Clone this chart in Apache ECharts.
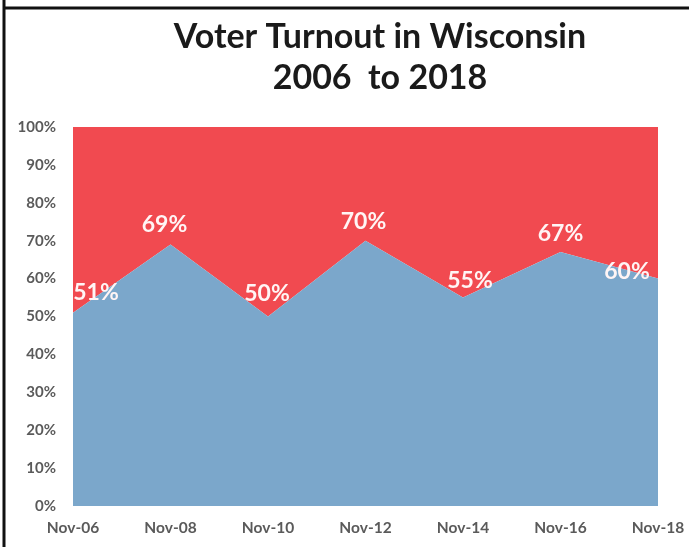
<!DOCTYPE html>
<html>
<head>
<meta charset="utf-8">
<script src="https://cdn.jsdelivr.net/npm/echarts@6/dist/echarts.min.js"></script>
<style>
html,body{margin:0;padding:0;background:#fff;}
#chart{width:689px;height:547px;}
</style>
</head>
<body>
<div id="chart"></div>
<script>
const categories = ['Nov-06','Nov-08','Nov-10','Nov-12','Nov-14','Nov-16','Nov-18'];
const turnout = [51, 69, 50, 70, 55, 67, 60];
const remainder = turnout.map(v => 100 - v);
const yTicks = [0, 10, 20, 30, 40, 50, 60, 70, 80, 90, 100];
const labelOffsets = [[23,-20],[-6,-20],[-1,-23],[-2,-19],[7,-17],[0,-18],[-31,-7]];

const chart = echarts.init(document.getElementById('chart'), null, {renderer:'canvas'});
chart.setOption({
  animation: false,
  backgroundColor: '#fff',
  title: {
    text: 'Voter Turnout in Wisconsin\n2006  to 2018',
    left: 375, textAlign: 'center', top: 12,
    textStyle: {fontFamily: 'Lato', fontSize: 34, fontWeight: 'bold', color: '#1a1a1a', lineHeight: 41}
  },
  graphic: [
    {type:'line', shape:{x1:4, y1:0, x2:4, y2:547}, style:{stroke:'#111', lineWidth:3}},
    {type:'line', shape:{x1:3, y1:8, x2:689, y2:8}, style:{stroke:'#111', lineWidth:3}}
  ],
  grid: {left: 73, right: 31, top: 127, bottom: 41},
  xAxis: {
    type: 'category', data: categories, boundaryGap: false,
    axisLine: {show: false}, axisTick: {show: false},
    axisLabel: {color: '#5a5a5a', fontWeight: 'bold', fontSize: 15.5, fontFamily: 'Lato', margin: 14},
    splitLine: {show: false}
  },
  yAxis: {
    type: 'value', min: 0, max: 100, interval: 10,
    axisLine: {show: false}, axisTick: {show: false}, splitLine: {show: false},
    axisLabel: {color: '#5a5a5a', fontWeight: 'bold', fontSize: 15, fontFamily: 'Lato', margin: 17,
      formatter: v => yTicks.includes(v) ? v + '%' : ''}
  },
  series: [
    {
      name: 'Turnout', type: 'line', stack: 'total', data: turnout.map((v,i)=>({
        value: v,
        label: {offset: labelOffsets[i]}
      })),
      symbol: 'circle', symbolSize: 1, showSymbol: true,
      itemStyle: {color: 'rgba(0,0,0,0)'},
      lineStyle: {width: 0},
      areaStyle: {color: '#7ba7cb', opacity: 1},
      label: {show: true, position: 'inside', formatter: p => p.value + '%',
        color: '#fff5f5', fontSize: 23, fontWeight: 'bold', fontFamily: 'Lato'},
      z: 3
    },
    {
      name: 'Non-voters', type: 'line', stack: 'total', data: remainder,
      symbol: 'none', lineStyle: {width: 0},
      areaStyle: {color: '#f14a50', opacity: 1},
      z: 2
    }
  ]
});
</script>
</body>
</html>
